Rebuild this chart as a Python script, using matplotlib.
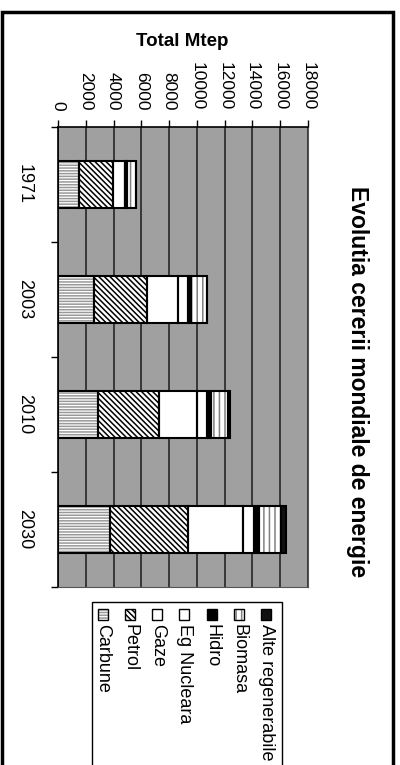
import matplotlib.pyplot as plt
from matplotlib.patches import Rectangle

# data (Mtep)
years = ['1971', '2003', '2010', '2030']
carbune = [1480, 2590, 2860, 3720]
petrol = [2450, 3820, 4440, 5650]
gaze = [890, 2240, 2680, 3920]
nucleara = [30, 680, 770, 830]
hidro = [110, 230, 280, 370]
biomasa = [680, 1140, 1240, 1600]
alte = [10, 60, 100, 300]

names = ['Carbune', 'Petrol', 'Gaze', 'Eg Nucleara', 'Hidro', 'Biomasa', 'Alte regenerabile']
series = [carbune, petrol, gaze, nucleara, hidro, biomasa, alte]

# face, hatch, hatch colour
styles = [('white', '-' * 6, '#999999'),
          ('white', '\\' * 6, 'black'),
          ('white', '', 'white'),
          ('white', '', 'white'),
          ('black', '', 'black'),
          ('white', '|||', '#808080'),
          ('#111111', '', '#111111')]

plt.rcParams['font.family'] = ['Liberation Sans', 'DejaVu Sans']
plt.rcParams['hatch.linewidth'] = 1.1

fig = plt.figure(figsize=(4, 7.65), dpi=100)
ax = fig.add_axes([0.145, 0.2327, 0.625, 0.6013])
ax.set_facecolor('#a0a0a0')
ax.set_axisbelow(True)

pos = list(range(len(years)))
left = [0] * len(years)
for vals, (face, hatch, hcol) in zip(series, styles):
    ax.barh(pos, vals, left=left, height=0.41, color=face, hatch=hatch,
            edgecolor=hcol, linewidth=0, zorder=3)
    ax.barh(pos, vals, left=left, height=0.41, fill=False,
            edgecolor='black', linewidth=1.5, zorder=4)
    left = [l + v for l, v in zip(left, vals)]

ax.set_xlim(0, 18000)
ax.set_ylim(3.5, -0.5)
ax.xaxis.tick_top()
ax.set_xticks(range(0, 18001, 2000))
ax.tick_params(axis='x', direction='out', length=5, width=1, pad=7,
               labelsize=12.5, labelrotation=-90)
ax.grid(axis='x', color='#303030', linewidth=1.3)

ax.set_yticks([-0.5, 0.5, 1.5, 2.5, 3.5])
ax.set_yticklabels([])
ax.set_yticks(pos, minor=True)
ax.set_yticklabels(years, minor=True, rotation=-90, va='center', ha='right')
ax.tick_params(axis='y', which='major', direction='out', length=5, width=1)
ax.tick_params(axis='y', which='minor', length=0, pad=18, labelsize=13)

for s in ['top', 'left']:
    ax.spines[s].set_linewidth(1.2)
for s in ['right', 'bottom']:
    ax.spines[s].set_color('#555555')

fig.text(182 / 400, 1 - 41 / 765, 'Total Mtep', ha='center', va='center',
         weight='bold', size=13.5)
fig.text(357 / 400, 1 - 382 / 765, 'Evolutia cererii mondiale de energie',
         rotation=-90, ha='center', va='center', weight='bold', size=16.5)

# outer frame
fig.patches.append(Rectangle((2 / 400, -0.01), 391 / 400, 1.01 - 12 / 765,
                             transform=fig.transFigure, fill=False,
                             edgecolor='black', linewidth=2.5))

# legend, drawn rotated like the rest of the chart
fig.patches.append(Rectangle((92 / 400, -0.01), 190 / 400, 0.01 + 1 - 602 / 765,
                             transform=fig.transFigure, fill=False,
                             edgecolor='black', linewidth=1))
for i in range(len(names)):
    j = len(names) - 1 - i
    face, hatch, hcol = styles[j]
    xc = 266 - 27.2 * i
    fig.patches.append(Rectangle(((xc - 5) / 400, 1 - 620 / 765), 10 / 400, 11 / 765,
                                 transform=fig.transFigure, facecolor=face,
                                 hatch=hatch, edgecolor=hcol, linewidth=0))
    fig.patches.append(Rectangle(((xc - 5) / 400, 1 - 620 / 765), 10 / 400, 11 / 765,
                                 transform=fig.transFigure, fill=False,
                                 edgecolor='black', linewidth=1))
    fig.text(xc / 400, 1 - 624 / 765, names[j], rotation=-90, ha='center',
             va='top', size=13)

fig.savefig('out.png', dpi=100)
